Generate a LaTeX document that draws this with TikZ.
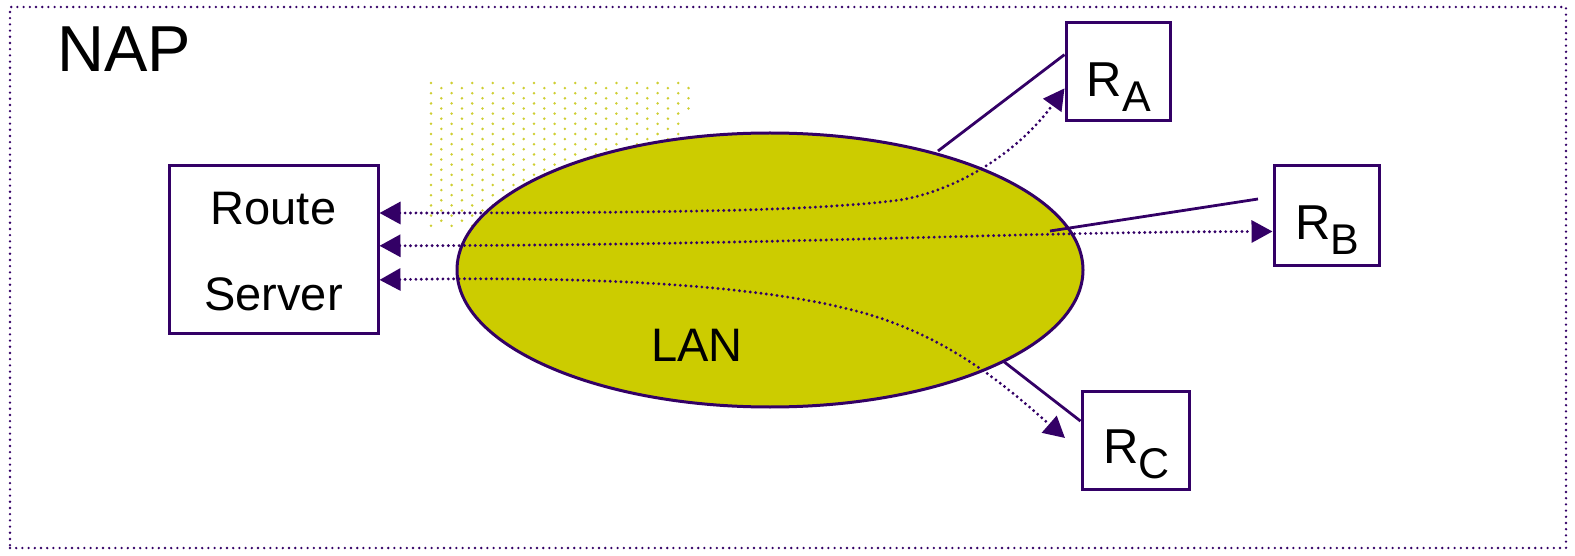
\documentclass[tikz,border=0pt]{standalone}
\usepackage{fontspec}
\setmainfont{Liberation Sans}
\usetikzlibrary{arrows.meta,shapes.geometric}
\definecolor{ink}{RGB}{51,0,102}
\definecolor{lanfill}{RGB}{204,204,0}
\definecolor{dotfill}{RGB}{206,206,50}
% router name with a large, lowered subscript
\newcommand\routername[1]{R\raisebox{-15pt}{\fontsize{43}{43}\selectfont #1}}

\begin{document}
\begin{tikzpicture}[x=1pt,y=-1pt,
  frame/.style={draw=ink,line width=2.6pt,dash pattern=on 0pt off 6.2pt,line cap=round,inner sep=0pt},
  box/.style={draw=ink,line width=3pt,fill=white,inner sep=0pt},
  lan/.style={ellipse,draw=ink,line width=3pt,fill=lanfill,inner sep=0pt,minimum width=626pt,minimum height=274pt},
  link/.style={draw=ink,line width=2.8pt},
  msg/.style={draw=ink,line width=3.2pt,dash pattern=on 0pt off 5.4pt,line cap=round,
    {Triangle[length=21pt,width=22pt]}-{Triangle[length=21pt,width=22pt]}},
  txt/.style={inner sep=0pt,font=\fontsize{47}{56}\selectfont},
  bigtxt/.style={inner sep=0pt,font=\fontsize{65}{72}\selectfont},
  rtxt/.style={inner sep=0pt,font=\fontsize{49}{56}\selectfont}]
\useasboundingbox (0,0) rectangle (1575,556);

% NAP frame
\node[frame,minimum width=1556pt,minimum height=541pt] (nap) at (788,277.5) {};
\node[bigtxt,anchor=base west] (naplabel) at (57,72) {NAP};

% staggered dot shading behind the LAN
\foreach \i in {0,...,25}{
  \foreach \j in {0,...,14}{
    \pgfmathsetmacro{\dx}{431+10.3*\i}
    \pgfmathsetmacro{\dy}{83+10.2*\j+5.1*mod(\i,2)}
    \pgfmathtruncatemacro{\keep}{(\dy<227)&&!((\dx>682)&&(\dy>110))}
    \ifnum\keep=1
      \fill[dotfill] (\dx,\dy) circle (1.4pt);
    \fi
  }
}

% LAN
\node[lan] (lanarea) at (770,270) {};
\node[txt,anchor=base] (lanlabel) at (697,361) {LAN};

% route server
\node[box,minimum width=209pt,minimum height=167pt] (rs) at (273.5,249.5) {};
\node[txt,anchor=base] (rs1) at (273.5,225) {Route};
\node[txt,anchor=base] (rs2) at (273.5,310) {Server};

% routers
\node[box,minimum width=104pt,minimum height=98pt] (ra) at (1118,72) {};
\node[rtxt,anchor=base] (ralabel) at (1119,97) {\routername{A}};
\node[box,minimum width=105pt,minimum height=100pt] (rb) at (1326.5,216) {};
\node[rtxt,anchor=base] (rblabel) at (1327.5,240) {\routername{B}};
\node[box,minimum width=107pt,minimum height=98pt] (rc) at (1135.5,440) {};
\node[rtxt,anchor=base] (rclabel) at (1136.5,463) {\routername{C}};

% physical attachments to the LAN
\coordinate (aStart) at (938,151);
\coordinate (bStart) at (1050,231);
\coordinate (bEnd) at (1258,199);
\coordinate (cStart) at (1003,361);
\draw[link] (aStart) -- (ra.162);
\draw[link] (bStart) -- (bEnd);
\draw[link] (cStart) -- (rc.161);

% route server sessions
\coordinate (cTip) at (1065,438);
\draw[msg] (rs.19) .. controls (700,213) and (820,210) .. (900,200)
  .. controls (960,190) and (1020,150) .. (ra.197);
\draw[msg] (rs.2) .. controls (800,245) and (1000,232) .. (rb.196);
\draw[msg] (rs.-16) .. controls (600,276) and (780,285) .. (880,318)
  .. controls (960,345) and (1010,390) .. (cTip);
\end{tikzpicture}
\end{document}
